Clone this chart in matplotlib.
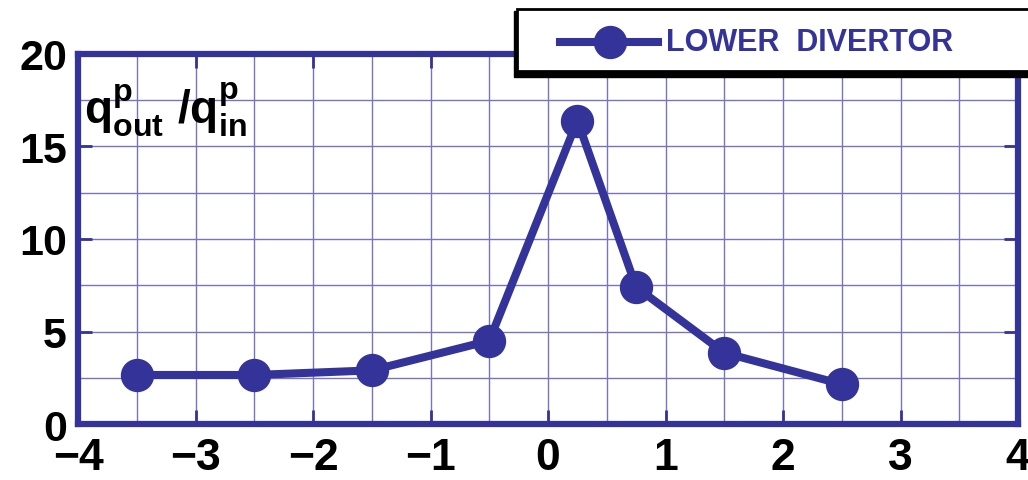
import matplotlib
matplotlib.use("Agg")
import matplotlib.pyplot as plt
from matplotlib.patches import Rectangle
from matplotlib.lines import Line2D

# Data
x_vals = [-3.5, -2.5, -1.5, -0.5, 0.25, 0.75, 1.5, 2.5]
ratio = [2.65, 2.65, 2.9, 4.5, 16.4, 7.4, 3.85, 2.15]
x_ticks = [-4, -3, -2, -1, 0, 1, 2, 3, 4]
y_ticks = [0, 5, 10, 15, 20]
series_name = "LOWER  DIVERTOR"

blue = "#333399"
grid_col = "#7873c0"
font = ["Liberation Sans", "DejaVu Sans"]

plt.rcParams['font.family'] = font
plt.rcParams['font.weight'] = 'bold'
plt.rcParams['mathtext.fontset'] = 'custom'
plt.rcParams['mathtext.rm'] = 'Liberation Sans:bold'
plt.rcParams['mathtext.bf'] = 'Liberation Sans:bold'
plt.rcParams['mathtext.it'] = 'Liberation Sans:bold'
plt.rcParams['axes.unicode_minus'] = True

fig = plt.figure(figsize=(10.28, 4.81), dpi=100)
ax = fig.add_axes([0.0759, 0.1164, 0.9144, 0.7693])

ax.plot(x_vals, ratio, color=blue, lw=5.8, marker='o', markersize=23,
        markerfacecolor=blue, markeredgecolor=blue, zorder=3, clip_on=False)

ax.set_xlim(-4, 4)
ax.set_ylim(0, 20)
ax.set_xticks(x_ticks)
ax.set_yticks(y_ticks)
ax.set_xticks([i * 0.5 for i in range(-8, 9)], minor=True)
ax.set_yticks([i * 2.5 for i in range(0, 9)], minor=True)
ax.grid(which='both', color=grid_col, lw=1.0)
ax.tick_params(which='major', direction='in', length=10, width=2, color=blue,
               left=True, right=True, top=True, bottom=True)
ax.tick_params(axis='x', which='major', pad=9, labelsize=32)
ax.tick_params(axis='y', which='major', pad=8, labelsize=31)
ax.tick_params(which='minor', length=0)
for lab in ax.get_xticklabels() + ax.get_yticklabels():
    lab.set_fontweight('bold')
for s in ax.spines.values():
    s.set_color(blue)
    s.set_linewidth(4.5)

ax.text(0.006, 0.93, r'$\mathbf{q^{p}_{out}\ /q^{p}_{in}}$', transform=ax.transAxes,
        fontsize=33, va='top', ha='left', color='black', zorder=4)

# legend box with drop shadow, drawn in figure coordinates
W, H = 1028.0, 481.0
shadow = Rectangle((514 / W, 1 - 78 / H), 520 / W, 66 / H, transform=fig.transFigure,
                   facecolor='black', edgecolor='black', zorder=5)
box = Rectangle((517 / W, 1 - 72 / H), 520 / W, 62 / H, transform=fig.transFigure,
                facecolor='white', edgecolor='black', lw=2, zorder=6)
fig.patches.extend([shadow, box])
fig.lines.append(Line2D([560 / W, 658 / W], [1 - 43 / H, 1 - 43 / H], transform=fig.transFigure,
                        color=blue, lw=5.8, zorder=7))
fig.lines.append(Line2D([610 / W], [1 - 43 / H], transform=fig.transFigure, marker='o',
                        markersize=23, color=blue, zorder=7))
fig.text(666 / W, 1 - 43 / H, series_name, color=blue, fontsize=22, fontweight='bold',
         va='center', ha='left', zorder=8)

fig.savefig("out.png", dpi=100)
